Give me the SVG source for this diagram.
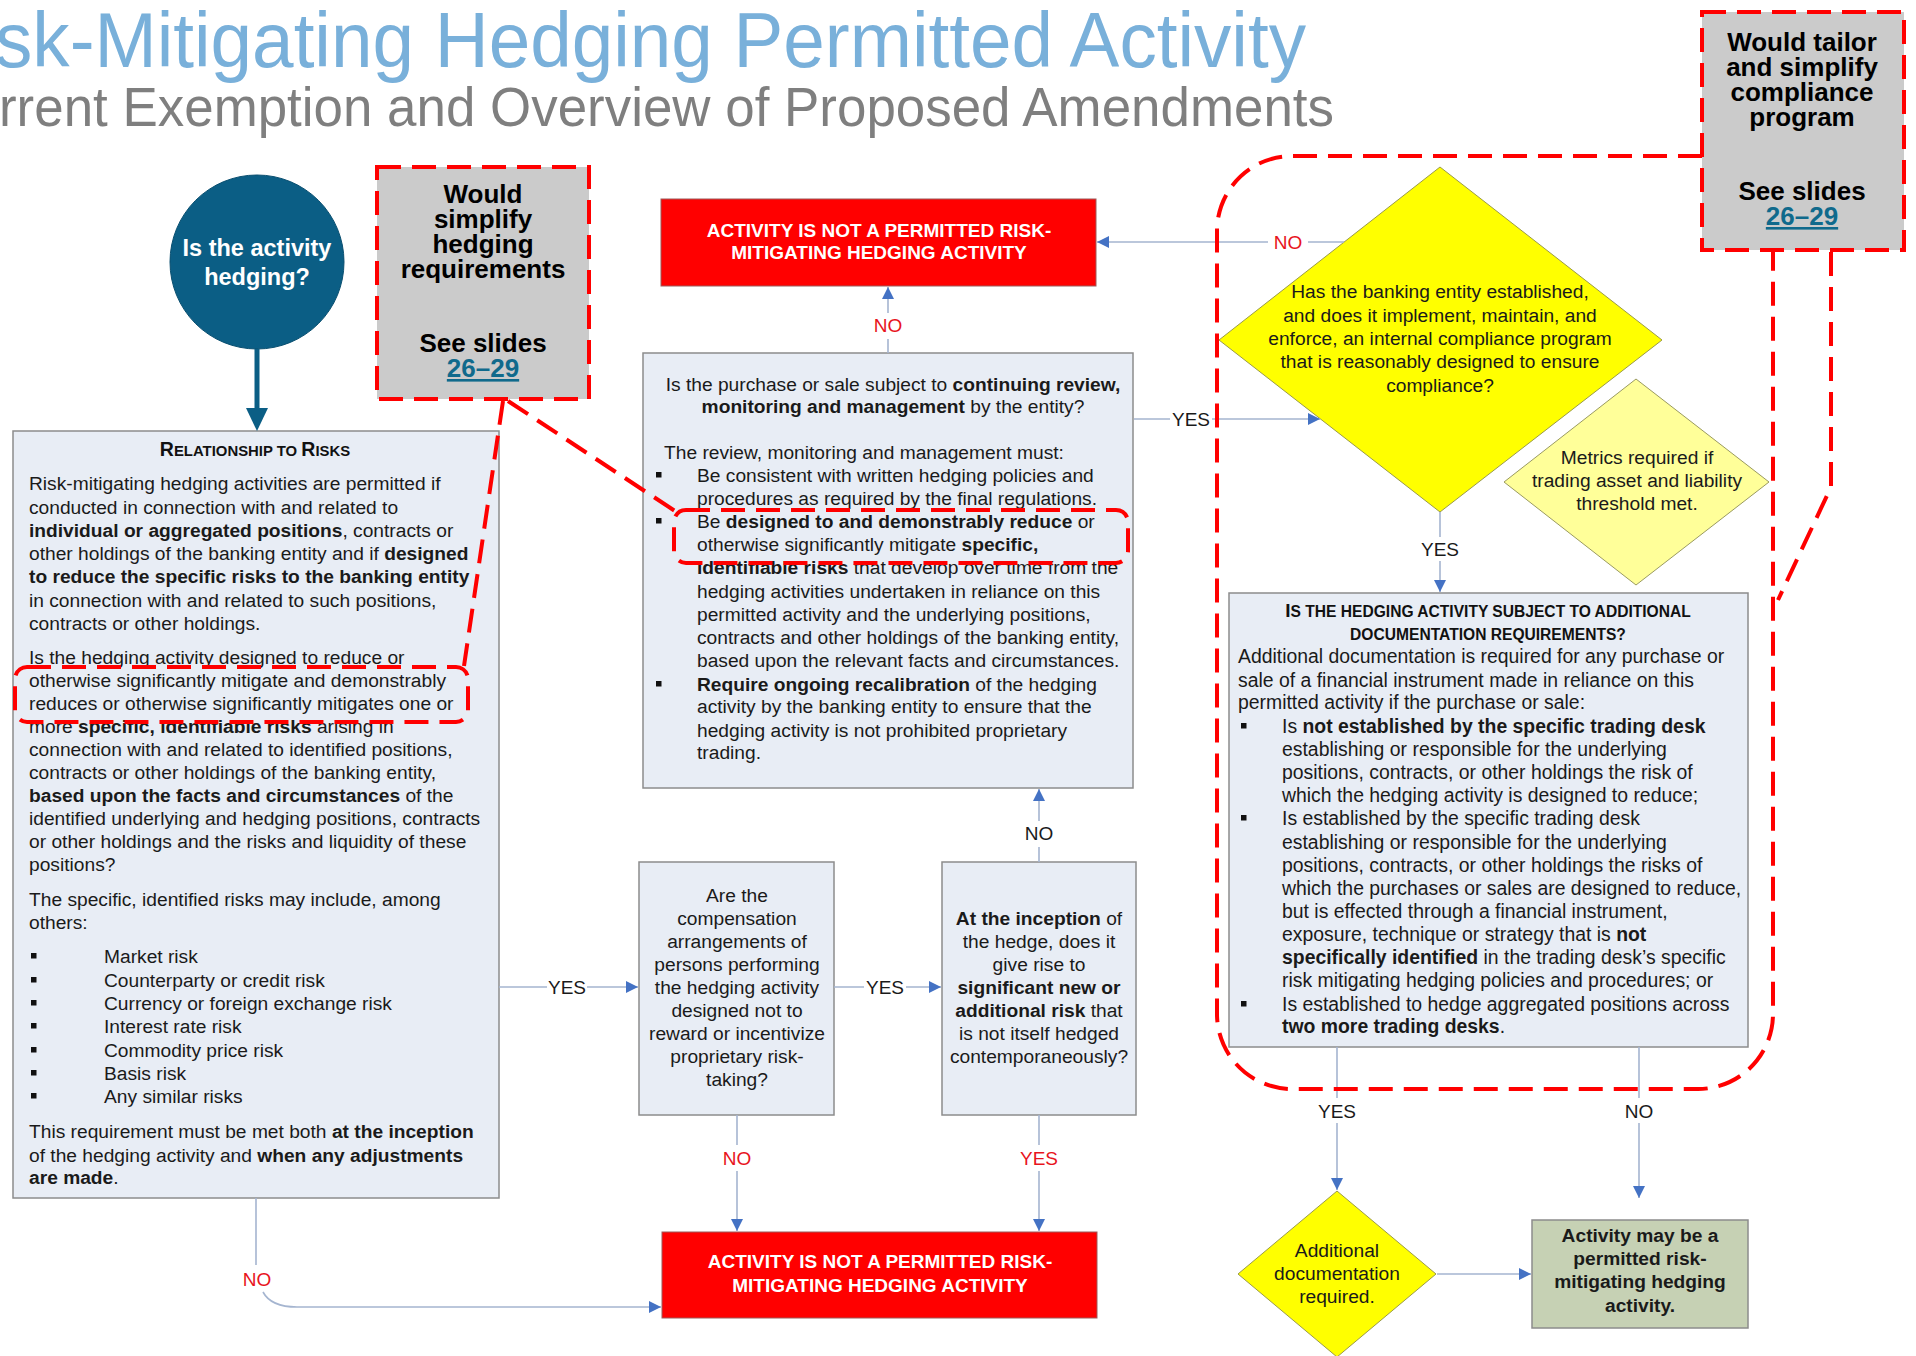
<svg xmlns="http://www.w3.org/2000/svg" width="1916" height="1356" viewBox="0 0 1916 1356">
<style>
text{font-family:"Liberation Sans",Arial,Helvetica,sans-serif}
.t{font-size:19.2px;fill:#1a1a1a}
.td{font-size:19.4px;fill:#1a1a1a}
.b{font-weight:bold}
.m{text-anchor:middle}
.box{fill:#E8EDF5;stroke:#8C8C8C;stroke-width:1.5}
.red{fill:#FF0000;stroke:#9C5A5A;stroke-width:1}
.rt{font-size:19px;font-weight:bold;fill:#fff;text-anchor:middle}
.gray{fill:#CBCBCB}
.gt{font-size:26px;font-weight:bold;fill:#000;text-anchor:middle}
.lnk{fill:#106A8C;text-decoration:underline}
.ln{fill:none;stroke:#A5B5D0;stroke-width:1.6}
.lb{font-size:19px;fill:#1a1a1a;text-anchor:middle}
.lr{fill:#E8141C}
.dash{fill:none;stroke:#FF0000;stroke-width:4;stroke-dasharray:24 11}
.bul{fill:#111}
</style>
<defs>
<marker id="ar" markerWidth="13" markerHeight="12" refX="12" refY="6" orient="auto" markerUnits="userSpaceOnUse"><path d="M0,0 L12,6 L0,12 z" fill="#4472C4"/></marker>
<rect id="bu" width="5.5" height="5.5" class="bul"/>
</defs>

<g id="title">
<text x="-5" y="67" font-size="77" fill="#79B0DA" textLength="1311" lengthAdjust="spacingAndGlyphs">sk-Mitigating Hedging Permitted Activity</text>
<text x="-1" y="126" font-size="56" fill="#7F7F7F" textLength="1335" lengthAdjust="spacingAndGlyphs">rrent Exemption and Overview of Proposed Amendments</text>
</g>

<g id="start">
<circle cx="257" cy="262" r="87" fill="#0B5E85" stroke="#0A4F70" stroke-width="1"/>
<text x="257" y="256" class="b m" font-size="23.5" fill="#fff">Is the activity</text>
<text x="257" y="285" class="b m" font-size="23.5" fill="#fff">hedging?</text>
</g>

<g id="note-simplify">
<rect x="377" y="167" width="212" height="232" class="gray"/>
<text x="483" y="203" class="gt">Would</text>
<text x="483" y="228" class="gt">simplify</text>
<text x="483" y="253" class="gt">hedging</text>
<text x="483" y="278" class="gt">requirements</text>
<text x="483" y="352" class="gt">See slides</text>
<text x="483" y="377" class="gt"><tspan class="lnk">26–29</tspan></text>
<rect x="377" y="167" width="212" height="232" class="dash"/>
</g>

<g id="note-compliance">
<rect x="1702" y="12" width="202" height="238" class="gray"/>
<text x="1802" y="51" class="gt">Would tailor</text>
<text x="1802" y="76" class="gt">and simplify</text>
<text x="1802" y="101" class="gt">compliance</text>
<text x="1802" y="126" class="gt">program</text>
<text x="1802" y="200" class="gt">See slides</text>
<text x="1802" y="225" class="gt"><tspan class="lnk">26–29</tspan></text>
</g>

<g id="risks">
<rect x="13" y="431" width="486" height="767" class="box"/>
<text x="255" y="456" class="b m" fill="#111"><tspan font-size="19.5">R</tspan><tspan font-size="14.9">ELATIONSHIP TO </tspan><tspan font-size="19.5">R</tspan><tspan font-size="14.9">ISKS</tspan></text>
<g class="t">
<text x="29" y="490">Risk-mitigating hedging activities are permitted if</text>
<text x="29" y="514">conducted in connection with and related to</text>
<text x="29" y="537"><tspan class="b">individual or aggregated positions</tspan>, contracts or</text>
<text x="29" y="560">other holdings of the banking entity and if <tspan class="b">designed</tspan></text>
<text x="29" y="583" class="b">to reduce the specific risks to the banking entity</text>
<text x="29" y="607">in connection with and related to such positions,</text>
<text x="29" y="630">contracts or other holdings.</text>
<text x="29" y="664">Is the hedging activity designed to reduce or</text>
<text x="29" y="687">otherwise significantly mitigate and demonstrably</text>
<text x="29" y="710">reduces or otherwise significantly mitigates one or</text>
<text x="29" y="733">more <tspan class="b">specific, identifiable risks</tspan> arising in</text>
<text x="29" y="756">connection with and related to identified positions,</text>
<text x="29" y="779">contracts or other holdings of the banking entity,</text>
<text x="29" y="802"><tspan class="b">based upon the facts and circumstances</tspan> of the</text>
<text x="29" y="825">identified underlying and hedging positions, contracts</text>
<text x="29" y="848">or other holdings and the risks and liquidity of these</text>
<text x="29" y="871">positions?</text>
<text x="29" y="906">The specific, identified risks may include, among</text>
<text x="29" y="929">others:</text>
<text x="104" y="963">Market risk</text>
<text x="104" y="987">Counterparty or credit risk</text>
<text x="104" y="1010">Currency or foreign exchange risk</text>
<text x="104" y="1033">Interest rate risk</text>
<text x="104" y="1057">Commodity price risk</text>
<text x="104" y="1080">Basis risk</text>
<text x="104" y="1103">Any similar risks</text>
<text x="29" y="1138">This requirement must be met both <tspan class="b">at the inception</tspan></text>
<text x="29" y="1162">of the hedging activity and <tspan class="b">when any adjustments</tspan></text>
<text x="29" y="1184"><tspan class="b">are made</tspan>.</text>
</g>
<use href="#bu" x="31" y="953"/><use href="#bu" x="31" y="977"/><use href="#bu" x="31" y="1000"/><use href="#bu" x="31" y="1023"/><use href="#bu" x="31" y="1047"/><use href="#bu" x="31" y="1070"/><use href="#bu" x="31" y="1093"/>
</g>

<g id="not-permitted-top">
<rect x="661" y="199" width="435" height="87" class="red"/>
<text x="879" y="237" class="rt">ACTIVITY IS NOT A PERMITTED RISK-</text>
<text x="879" y="259" class="rt">MITIGATING HEDGING ACTIVITY</text>
</g>

<g id="review">
<rect x="643" y="353" width="490" height="435" class="box"/>
<g class="t">
<text x="893" y="391" class="m">Is the purchase or sale subject to <tspan class="b">continuing review,</tspan></text>
<text x="893" y="413" class="m"><tspan class="b">monitoring and management</tspan> by the entity?</text>
<text x="664" y="459">The review, monitoring and management must:</text>
<text x="697" y="482">Be consistent with written hedging policies and</text>
<text x="697" y="505">procedures as required by the final regulations.</text>
<text x="697" y="528">Be <tspan class="b">designed to and demonstrably reduce</tspan> or</text>
<text x="697" y="551">otherwise significantly mitigate <tspan class="b">specific,</tspan></text>
<text x="697" y="574"><tspan class="b">identifiable risks</tspan> that develop over time from the</text>
<text x="697" y="598">hedging activities undertaken in reliance on this</text>
<text x="697" y="621">permitted activity and the underlying positions,</text>
<text x="697" y="644">contracts and other holdings of the banking entity,</text>
<text x="697" y="667">based upon the relevant facts and circumstances.</text>
<text x="697" y="691"><tspan class="b">Require ongoing recalibration</tspan> of the hedging</text>
<text x="697" y="713">activity by the banking entity to ensure that the</text>
<text x="697" y="737">hedging activity is not prohibited proprietary</text>
<text x="697" y="759">trading.</text>
</g>
<use href="#bu" x="656" y="472"/><use href="#bu" x="656" y="518"/><use href="#bu" x="656" y="681"/>
</g>

<g id="compensation">
<rect x="639" y="862" width="195" height="253" class="box"/>
<g class="t m">
<text x="737" y="902">Are the</text>
<text x="737" y="925">compensation</text>
<text x="737" y="948">arrangements of</text>
<text x="737" y="971">persons performing</text>
<text x="737" y="994">the hedging activity</text>
<text x="737" y="1017">designed not to</text>
<text x="737" y="1040">reward or incentivize</text>
<text x="737" y="1063">proprietary risk-</text>
<text x="737" y="1086">taking?</text>
</g>
</g>

<g id="inception">
<rect x="942" y="862" width="194" height="253" class="box"/>
<g class="t m">
<text x="1039" y="925"><tspan class="b">At the inception</tspan> of</text>
<text x="1039" y="948">the hedge, does it</text>
<text x="1039" y="971">give rise to</text>
<text x="1039" y="994" class="b">significant new or</text>
<text x="1039" y="1017"><tspan class="b">additional risk</tspan> that</text>
<text x="1039" y="1040">is not itself hedged</text>
<text x="1039" y="1063">contemporaneously?</text>
</g>
</g>

<g id="not-permitted-bottom">
<rect x="662" y="1232" width="435" height="86" class="red"/>
<text x="880" y="1268" class="rt">ACTIVITY IS NOT A PERMITTED RISK-</text>
<text x="880" y="1292" class="rt">MITIGATING HEDGING ACTIVITY</text>
</g>

<g id="compliance-program">
<polygon points="1440,167 1662,340 1440,512 1219,340" fill="#FFFF00" stroke="#9A9A48" stroke-width="1"/>
<g class="t m">
<text x="1440" y="298">Has the banking entity established,</text>
<text x="1440" y="322">and does it implement, maintain, and</text>
<text x="1440" y="345">enforce, an internal compliance program</text>
<text x="1440" y="368">that is reasonably designed to ensure</text>
<text x="1440" y="392">compliance?</text>
</g>
</g>

<g id="metrics">
<polygon points="1636,379 1769,482 1636,585 1504,482" fill="#FFFF99" stroke="#9A9A60" stroke-width="1"/>
<g class="t m">
<text x="1637" y="464">Metrics required if</text>
<text x="1637" y="487">trading asset and liability</text>
<text x="1637" y="510">threshold met.</text>
</g>
</g>

<g id="documentation">
<rect x="1229" y="593" width="519" height="454" class="box"/>
<text x="1488" y="617" class="b m" fill="#111"><tspan font-size="19">I</tspan><tspan font-size="15.6">S THE HEDGING ACTIVITY SUBJECT TO ADDITIONAL</tspan></text>
<text x="1488" y="640" class="b m" fill="#111" font-size="15.6">DOCUMENTATION REQUIREMENTS?</text>
<g class="td">
<text x="1238" y="663">Additional documentation is required for any purchase or</text>
<text x="1238" y="687">sale of a financial instrument made in reliance on this</text>
<text x="1238" y="709">permitted activity if the purchase or sale:</text>
<text x="1282" y="733">Is <tspan class="b">not established by the specific trading desk</tspan></text>
<text x="1282" y="756">establishing or responsible for the underlying</text>
<text x="1282" y="779">positions, contracts, or other holdings the risk of</text>
<text x="1282" y="802">which the hedging activity is designed to reduce;</text>
<text x="1282" y="825">Is established by the specific trading desk</text>
<text x="1282" y="849">establishing or responsible for the underlying</text>
<text x="1282" y="872">positions, contracts, or other holdings the risks of</text>
<text x="1282" y="895">which the purchases or sales are designed to reduce,</text>
<text x="1282" y="918">but is effected through a financial instrument,</text>
<text x="1282" y="941">exposure, technique or strategy that is <tspan class="b">not</tspan></text>
<text x="1282" y="964"><tspan class="b">specifically identified</tspan> in the trading desk’s specific</text>
<text x="1282" y="987">risk mitigating hedging policies and procedures; or</text>
<text x="1282" y="1011">Is established to hedge aggregated positions across</text>
<text x="1282" y="1033"><tspan class="b">two more trading desks</tspan>.</text>
</g>
<use href="#bu" x="1241" y="723"/><use href="#bu" x="1241" y="815"/><use href="#bu" x="1241" y="1001"/>
</g>

<g id="additional-doc">
<polygon points="1337,1191 1436,1274 1337,1357 1238,1274" fill="#FFFF00" stroke="#9A9A48" stroke-width="1"/>
<g class="t m">
<text x="1337" y="1257">Additional</text>
<text x="1337" y="1280">documentation</text>
<text x="1337" y="1303">required.</text>
</g>
</g>

<g id="permitted">
<rect x="1532" y="1220" width="216" height="108" fill="#C6D1B4" stroke="#8C8C8C" stroke-width="1.5"/>
<g class="t m b">
<text x="1640" y="1242">Activity may be a</text>
<text x="1640" y="1265">permitted risk-</text>
<text x="1640" y="1288">mitigating hedging</text>
<text x="1640" y="1312">activity.</text>
</g>
</g>

<g id="connectors">
<line x1="257" y1="349" x2="257" y2="410" stroke="#0B5E85" stroke-width="5"/>
<polygon points="246,408 268,408 257,431" fill="#0B5E85"/>
<path class="ln" marker-end="url(#ar)" d="M888,353 L888,339 M888,313 L888,287"/>
<path class="ln" marker-end="url(#ar)" d="M1344,242 L1308,242 M1268,242 L1097,242"/>
<path class="ln" marker-end="url(#ar)" d="M1134,419 L1170,419 M1212,419 L1320,419"/>
<path class="ln" marker-end="url(#ar)" d="M1440,512 L1440,537 M1440,561 L1440,592"/>
<path class="ln" marker-end="url(#ar)" d="M1337,1047 L1337,1098 M1337,1123 L1337,1190"/>
<path class="ln" marker-end="url(#ar)" d="M1639,1047 L1639,1098 M1639,1123 L1639,1198"/>
<path class="ln" marker-end="url(#ar)" d="M1437,1274 L1531,1274"/>
<path class="ln" marker-end="url(#ar)" d="M499,987 L547,987 M587,987 L638,987"/>
<path class="ln" marker-end="url(#ar)" d="M834,987 L864,987 M906,987 L941,987"/>
<path class="ln" marker-end="url(#ar)" d="M1039,862 L1039,847 M1039,821 L1039,789"/>
<path class="ln" marker-end="url(#ar)" d="M737,1115 L737,1145 M737,1171 L737,1231"/>
<path class="ln" marker-end="url(#ar)" d="M1039,1115 L1039,1145 M1039,1171 L1039,1231"/>
<path class="ln" marker-end="url(#ar)" d="M256,1198 L256,1265 M263,1292 Q271,1307 297,1307 L661,1307"/>
<text x="888" y="332" class="lb lr">NO</text>
<text x="1288" y="249" class="lb lr">NO</text>
<text x="1191" y="426" class="lb">YES</text>
<text x="1440" y="556" class="lb">YES</text>
<text x="1337" y="1118" class="lb">YES</text>
<text x="1639" y="1118" class="lb">NO</text>
<text x="567" y="994" class="lb">YES</text>
<text x="885" y="994" class="lb">YES</text>
<text x="1039" y="840" class="lb">NO</text>
<text x="737" y="1165" class="lb lr">NO</text>
<text x="1039" y="1165" class="lb lr">YES</text>
<text x="257" y="1286" class="lb lr">NO</text>
</g>

<g id="highlights">
<line class="dash" x1="508" y1="401" x2="675" y2="511"/>
<line class="dash" x1="503" y1="401" x2="464" y2="666"/>
<rect class="dash" x="15" y="667" width="453" height="55" rx="12"/>
<rect class="dash" x="674" y="510" width="454" height="53" rx="12"/>
<path class="dash" d="M1702,156 L1292,156 A75,75 0 0 0 1217,231 L1217,1014 A75,75 0 0 0 1292,1089 L1698,1089 A75,75 0 0 0 1773,1014 L1773,250"/>
<path class="dash" d="M1831,252 L1831,487 L1778,600"/>
<rect class="dash" x="1702" y="12" width="202" height="238"/>
</g>
</svg>
